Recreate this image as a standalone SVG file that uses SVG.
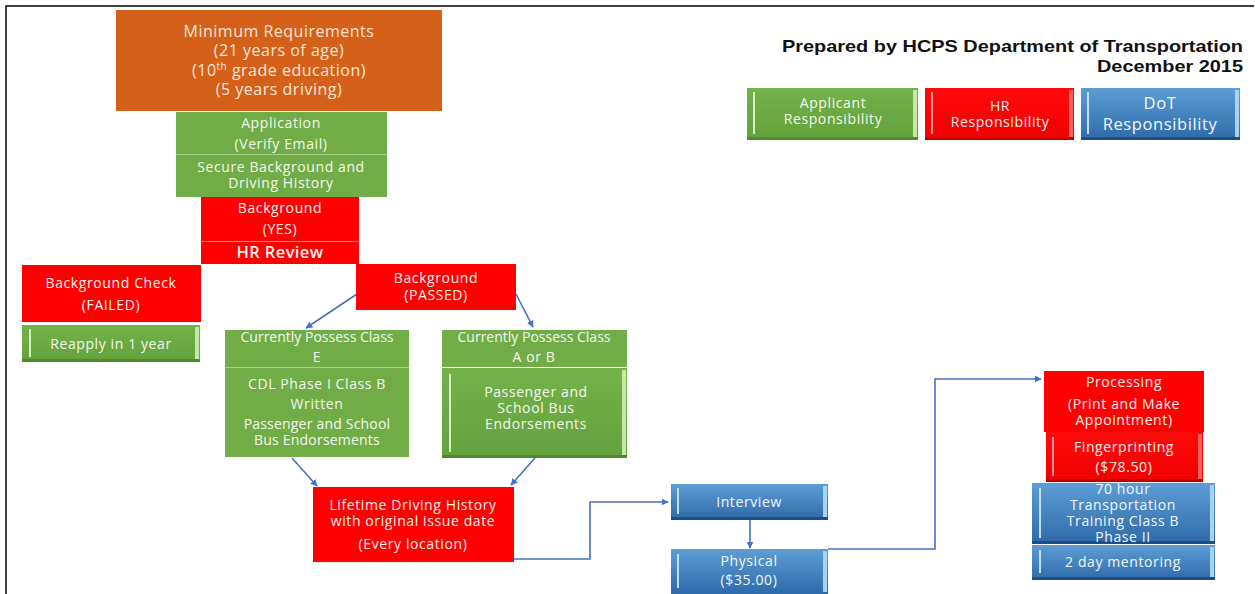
<svg xmlns="http://www.w3.org/2000/svg" width="1255" height="594" viewBox="0 0 1255 594">
  <defs>
    <linearGradient id="gBlue" x1="0" y1="0" x2="0" y2="1">
      <stop offset="0" stop-color="#5E9DD6"/>
      <stop offset="1" stop-color="#2E6AA8"/>
    </linearGradient>
    <linearGradient id="gGreen" x1="0" y1="0" x2="0" y2="1">
      <stop offset="0" stop-color="#74B24A"/>
      <stop offset="1" stop-color="#62A13C"/>
    </linearGradient>
    <linearGradient id="gRed" x1="0" y1="0" x2="0" y2="1">
      <stop offset="0" stop-color="#FF0A0A"/>
      <stop offset="1" stop-color="#F00000"/>
    </linearGradient>
    <marker id="arr" viewBox="0 0 10 10" refX="9" refY="5" markerWidth="7" markerHeight="7" orient="auto" markerUnits="userSpaceOnUse">
      <path d="M0,0 L10,5 L0,10 z" fill="#4472C4"/>
    </marker>
  </defs>
  <style>
    text { font-family: "Open Sans", "Noto Sans", "Liberation Sans", sans-serif; text-anchor: middle; }
    .t { font-size: 14px; fill: #F4F8EE; letter-spacing: 0.6px; }
    .tr { font-size: 14px; fill: #FFF0F0; letter-spacing: 0.6px; }
    .tb { font-size: 14px; fill: #F2F7FC; letter-spacing: 0.6px; }
    .big { font-size: 16px; fill: #FBE6D6; letter-spacing: 0.5px; }
    .green { fill: #70AD47; }
    .red { fill: #FF0000; }
    .orange { fill: #D4601A; }
    .divG { stroke: #A9D18E; stroke-width: 1; }
    .divR { stroke: #FF8080; stroke-width: 1; }
    .hl { stroke: #D9F2C4; stroke-width: 2; fill: none; }
    .hlR { stroke: #FF9999; stroke-width: 2; fill: none; }
    .hlB { stroke: #BFE0F8; stroke-width: 2; fill: none; }
    .edgeG { fill: #C5E7A8; }
    .edgeR { fill: #FF6060; }
    .edgeB { fill: #A8D2F2; }
    .botG { fill: #4E8A2C; }
    .botR { fill: #C00000; }
    .botB { fill: #1F4E86; }
    .con { fill: none; stroke: #4472C4; stroke-width: 1.6; }
    .title { font-family: "Liberation Sans", Arial, sans-serif; font-weight: bold; font-size: 17px; fill: #111; text-anchor: end; }
  </style>

  <rect width="1255" height="594" fill="#FFFFFF"/>
  <!-- page frame -->
  <path d="M6,594 V6 H1254" fill="none" stroke="#000" stroke-width="1.5"/>

  <!-- heading -->
  <g id="heading">
    <text class="title" x="1243" y="52" textLength="461" lengthAdjust="spacingAndGlyphs">Prepared by HCPS Department of Transportation</text>
    <text class="title" x="1243" y="72" textLength="146" lengthAdjust="spacingAndGlyphs">December 2015</text>
  </g>

  <!-- legend -->
  <g id="legend-applicant">
    <rect x="747" y="88" width="171" height="52" fill="url(#gGreen)"/>
    <rect x="913" y="90" width="4" height="48" class="edgeG"/>
    <rect x="747" y="137" width="171" height="3" class="botG"/>
    <line x1="754" y1="92" x2="754" y2="134" class="hl"/>
    <text class="t" x="833" y="108">Applicant</text>
    <text class="t" x="833" y="124">Responsibility</text>
  </g>
  <g id="legend-hr">
    <rect x="925" y="88" width="149" height="52" fill="url(#gRed)"/>
    <rect x="1069" y="90" width="4" height="48" class="edgeR"/>
    <rect x="925" y="137" width="149" height="3" class="botR"/>
    <line x1="932" y1="92" x2="932" y2="134" class="hlR"/>
    <text class="tr" x="1000" y="111">HR</text>
    <text class="tr" x="1000" y="127">Responsibility</text>
  </g>
  <g id="legend-dot">
    <rect x="1081" y="88" width="159" height="52" fill="url(#gBlue)"/>
    <rect x="1235" y="90" width="4" height="48" class="edgeB"/>
    <rect x="1081" y="137" width="159" height="3" class="botB"/>
    <line x1="1088" y1="92" x2="1088" y2="134" class="hlB"/>
    <text class="tb" x="1160" y="109" style="font-size:16.5px">DoT</text>
    <text class="tb" x="1160" y="130" style="font-size:16.5px">Responsibility</text>
  </g>

  <!-- connectors -->
  <g id="connectors">
    <line class="con" x1="357" y1="294" x2="306" y2="328" marker-end="url(#arr)"/>
    <line class="con" x1="516" y1="294" x2="533" y2="327" marker-end="url(#arr)"/>
    <line class="con" x1="292" y1="458" x2="317" y2="486" marker-end="url(#arr)"/>
    <line class="con" x1="535" y1="458" x2="511" y2="485" marker-end="url(#arr)"/>
    <polyline class="con" points="514,559 590,559 590,502 668,502" marker-end="url(#arr)"/>
    <line class="con" x1="750" y1="520" x2="750" y2="548" marker-end="url(#arr)"/>
    <polyline class="con" points="828,549 935,549 935,379 1041,379" marker-end="url(#arr)"/>
  </g>

  <!-- nodes -->
  <g id="min-requirements">
    <rect x="116" y="10" width="326" height="101" class="orange"/>
    <text class="big" x="279" y="37">Minimum Requirements</text>
    <text class="big" x="279" y="56">(21 years of age)</text>
    <text class="big" x="279" y="76">(10<tspan font-size="10" dy="-6">th</tspan><tspan dy="6"> grade education)</tspan></text>
    <text class="big" x="279" y="95">(5 years driving)</text>
  </g>

  <g id="application">
    <rect x="176" y="112" width="211" height="85" class="green"/>
    <line x1="176" y1="154.5" x2="387" y2="154.5" class="divG"/>
    <text class="t" x="281" y="128">Application</text>
    <text class="t" x="281" y="149">(Verify Email)</text>
    <text class="t" x="281" y="172">Secure Background and</text>
    <text class="t" x="281" y="188">Driving History</text>
  </g>

  <g id="background-yes">
    <rect x="201" y="197" width="158" height="67" class="red"/>
    <line x1="201" y1="241.5" x2="359" y2="241.5" class="divR"/>
    <text class="tr" x="280" y="213">Background</text>
    <text class="tr" x="280" y="234">(YES)</text>
    <text class="tr" x="280" y="258" style="font-size:16.5px;font-weight:600;letter-spacing:0.4px">HR Review</text>
  </g>

  <g id="background-failed">
    <rect x="22" y="265" width="179" height="57" class="red"/>
    <text class="tr" x="111" y="288">Background  Check</text>
    <text class="tr" x="111" y="310">(FAILED)</text>
  </g>

  <g id="reapply">
    <rect x="22" y="325" width="178" height="37" fill="url(#gGreen)"/>
    <rect x="195" y="327" width="4" height="33" class="edgeG"/>
    <rect x="22" y="359" width="178" height="3" class="botG"/>
    <line x1="30" y1="329" x2="30" y2="357" class="hl"/>
    <text class="t" x="111" y="349">Reapply  in 1 year</text>
  </g>

  <g id="background-passed">
    <rect x="356" y="264" width="160" height="46" class="red"/>
    <text class="tr" x="436" y="283">Background</text>
    <text class="tr" x="436" y="300">(PASSED)</text>
  </g>

  <g id="class-e">
    <rect x="225" y="330" width="184" height="127" class="green"/>
    <line x1="225" y1="367.5" x2="409" y2="367.5" class="divG"/>
    <text class="t" x="317" y="342" style="letter-spacing:0px">Currently Possess Class</text>
    <text class="t" x="317" y="362">E</text>
    <text class="t" x="317" y="389">CDL Phase I Class B</text>
    <text class="t" x="317" y="409">Written</text>
    <text class="t" x="317" y="429" style="letter-spacing:0.2px">Passenger and School</text>
    <text class="t" x="317" y="445" style="letter-spacing:0.2px">Bus Endorsements</text>
  </g>

  <g id="class-ab">
    <rect x="442" y="330" width="185" height="37" class="green"/>
    <rect x="442" y="368" width="185" height="90" fill="url(#gGreen)"/>
    <rect x="622" y="370" width="4" height="86" class="edgeG"/>
    <rect x="442" y="455" width="185" height="3" class="botG"/>
    <line x1="450" y1="374" x2="450" y2="452" class="hl"/>
    <text class="t" x="534" y="342" style="letter-spacing:0px">Currently Possess Class</text>
    <text class="t" x="534" y="362">A or B</text>
    <text class="t" x="536" y="397">Passenger  and</text>
    <text class="t" x="536" y="413">School  Bus</text>
    <text class="t" x="536" y="429">Endorsements</text>
  </g>

  <g id="lifetime-history">
    <rect x="313" y="487" width="201" height="75" class="red"/>
    <text class="tr" x="413" y="510">Lifetime  Driving  History</text>
    <text class="tr" x="413" y="526">with original issue date</text>
    <text class="tr" x="413" y="549">(Every  location)</text>
  </g>

  <g id="interview">
    <rect x="671" y="484" width="157" height="36" fill="url(#gBlue)"/>
    <rect x="823" y="486" width="4" height="32" class="edgeB"/>
    <rect x="671" y="517" width="157" height="3" class="botB"/>
    <line x1="678" y1="488" x2="678" y2="514" class="hlB"/>
    <text class="tb" x="749" y="507">Interview</text>
  </g>

  <g id="physical">
    <rect x="671" y="549" width="157" height="45" fill="url(#gBlue)"/>
    <rect x="823" y="551" width="4" height="41" class="edgeB"/>
    <line x1="678" y1="554" x2="678" y2="588" class="hlB"/>
    <text class="tb" x="749" y="566">Physical</text>
    <text class="tb" x="749" y="585">($35.00)</text>
  </g>

  <g id="processing">
    <rect x="1044" y="371" width="160" height="61" class="red"/>
    <text class="tr" x="1124" y="387">Processing</text>
    <text class="tr" x="1124" y="409">(Print and Make</text>
    <text class="tr" x="1124" y="425">Appointment)</text>
  </g>

  <g id="fingerprinting">
    <rect x="1046" y="432" width="157" height="50" fill="url(#gRed)"/>
    <rect x="1198" y="434" width="4" height="46" class="edgeR"/>
    <rect x="1046" y="479" width="157" height="3" class="botR"/>
    <line x1="1053" y1="437" x2="1053" y2="476" class="hlR"/>
    <text class="tr" x="1124" y="452">Fingerprinting</text>
    <text class="tr" x="1124" y="472">($78.50)</text>
  </g>

  <g id="training">
    <rect x="1032" y="483" width="183" height="61" fill="url(#gBlue)"/>
    <rect x="1210" y="485" width="4" height="57" class="edgeB"/>
    <rect x="1032" y="541" width="183" height="3" class="botB"/>
    <line x1="1040" y1="488" x2="1040" y2="538" class="hlB"/>
    <text class="tb" x="1123" y="494">70 hour</text>
    <text class="tb" x="1123" y="510">Transportation</text>
    <text class="tb" x="1123" y="526">Training Class  B</text>
    <text class="tb" x="1123" y="542">Phase II</text>
  </g>

  <g id="mentoring">
    <rect x="1032" y="545" width="183" height="35" fill="url(#gBlue)"/>
    <rect x="1210" y="547" width="4" height="31" class="edgeB"/>
    <rect x="1032" y="577" width="183" height="3" class="botB"/>
    <line x1="1040" y1="550" x2="1040" y2="573" class="hlB"/>
    <text class="tb" x="1123" y="567">2 day mentoring</text>
  </g>
</svg>
